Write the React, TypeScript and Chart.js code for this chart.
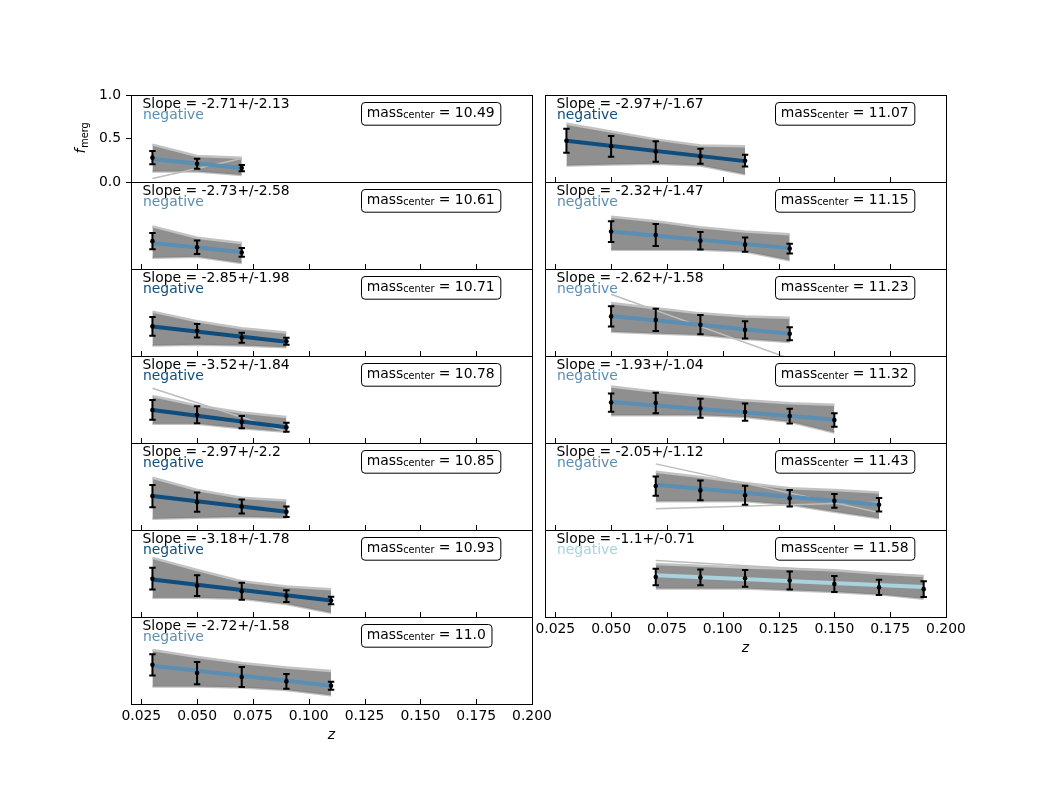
import { useEffect, useRef } from "react"
import { Chart, registerables } from "chart.js"

Chart.register(...registerables)

const FONT = "DejaVu Sans"
Chart.defaults.font.family = FONT

// axis ticks
const xTicks = [0.025, 0.05, 0.075, 0.1, 0.125, 0.15, 0.175, 0.2]
const yTicks = [0, 0.5, 1]
const X_MIN = 0.0204
const X_MAX = 0.2

// panels: left column 10.49 .. 11.0, right column 11.07 .. 11.58
const massLabels = ["10.49", "10.61", "10.71", "10.78", "10.85", "10.93", "11.0", "11.07", "11.15", "11.23", "11.32", "11.43", "11.58"]
const slopes = [-2.71, -2.73, -2.85, -3.52, -2.97, -3.18, -2.72, -2.97, -2.32, -2.62, -1.93, -2.05, -1.1]
const slopeErrs = [2.13, 2.58, 1.98, 1.84, 2.2, 1.78, 1.58, 1.67, 1.47, 1.58, 1.04, 1.12, 0.71]

const panelZ = [
  [0.03, 0.05, 0.07],
  [0.03, 0.05, 0.07],
  [0.03, 0.05, 0.07, 0.09],
  [0.03, 0.05, 0.07, 0.09],
  [0.03, 0.05, 0.07, 0.09],
  [0.03, 0.05, 0.07, 0.09, 0.11],
  [0.03, 0.05, 0.07, 0.09, 0.11],
  [0.03, 0.05, 0.07, 0.09, 0.11],
  [0.05, 0.07, 0.09, 0.11, 0.13],
  [0.05, 0.07, 0.09, 0.11, 0.13],
  [0.05, 0.07, 0.09, 0.11, 0.13, 0.15],
  [0.07, 0.09, 0.11, 0.13, 0.15, 0.17],
  [0.07, 0.09, 0.11, 0.13, 0.15, 0.17, 0.19],
]

const fMerg = [
  [0.28, 0.21, 0.16],
  [0.32, 0.25, 0.19],
  [0.34, 0.29, 0.21, 0.17],
  [0.38, 0.325, 0.24, 0.18],
  [0.39, 0.32, 0.27, 0.21],
  [0.44, 0.36, 0.295, 0.24, 0.19],
  [0.45, 0.355, 0.31, 0.26, 0.21],
  [0.475, 0.41, 0.35, 0.295, 0.245],
  [0.43, 0.39, 0.325, 0.28, 0.235],
  [0.455, 0.415, 0.36, 0.3, 0.255],
  [0.465, 0.46, 0.4, 0.355, 0.31, 0.265],
  [0.505, 0.455, 0.4, 0.365, 0.335, 0.29],
  [0.46, 0.455, 0.445, 0.42, 0.38, 0.34, 0.32],
]

const fMergErr = [
  [0.077, 0.058, 0.035],
  [0.094, 0.077, 0.05],
  [0.107, 0.078, 0.058, 0.04],
  [0.113, 0.098, 0.071, 0.052],
  [0.128, 0.11, 0.08, 0.06],
  [0.125, 0.12, 0.098, 0.067, 0.044],
  [0.123, 0.127, 0.115, 0.086, 0.046],
  [0.138, 0.12, 0.117, 0.086, 0.067],
  [0.12, 0.126, 0.1, 0.083, 0.056],
  [0.117, 0.128, 0.11, 0.098, 0.075],
  [0.105, 0.117, 0.11, 0.1, 0.085, 0.077],
  [0.11, 0.113, 0.11, 0.096, 0.08, 0.077],
  [0.096, 0.09, 0.096, 0.104, 0.092, 0.087, 0.09],
]

// best fit line, value at first and last z
const fitEnds = [
  [0.265, 0.16],
  [0.3, 0.195],
  [0.34, 0.165],
  [0.38, 0.18],
  [0.39, 0.21],
  [0.43, 0.19],
  [0.44, 0.21],
  [0.475, 0.24],
  [0.43, 0.24],
  [0.46, 0.256],
  [0.47, 0.27],
  [0.52, 0.29],
  [0.48, 0.345],
]

// envelope of the sampled fits
const bandHi = [
  [0.43, 0.3, 0.28],
  [0.49, 0.36, 0.3],
  [0.51, 0.4, 0.32, 0.27],
  [0.54, 0.43, 0.35, 0.3],
  [0.6, 0.46, 0.37, 0.34],
  [0.68, 0.54, 0.41, 0.35, 0.32],
  [0.62, 0.54, 0.47, 0.42, 0.38],
  [0.67, 0.58, 0.49, 0.42, 0.41],
  [0.6, 0.55, 0.48, 0.43, 0.4],
  [0.61, 0.55, 0.49, 0.455, 0.44],
  [0.65, 0.59, 0.54, 0.49, 0.456, 0.44],
  [0.67, 0.61, 0.54, 0.48, 0.46, 0.43],
  [0.61, 0.59, 0.57, 0.556, 0.537, 0.5, 0.47],
]

const bandLo = [
  [0.12, 0.12, 0.08],
  [0.13, 0.14, 0.07],
  [0.12, 0.13, 0.12, 0.1],
  [0.22, 0.22, 0.17, 0.13],
  [0.13, 0.14, 0.15, 0.14],
  [0.22, 0.22, 0.21, 0.15, 0.05],
  [0.2, 0.2, 0.19, 0.16, 0.1],
  [0.19, 0.2, 0.21, 0.19, 0.09],
  [0.22, 0.22, 0.22, 0.2, 0.1],
  [0.28, 0.26, 0.24, 0.195, 0.16],
  [0.32, 0.32, 0.32, 0.3, 0.245, 0.12],
  [0.33, 0.33, 0.33, 0.29, 0.21, 0.135],
  [0.327, 0.327, 0.327, 0.307, 0.287, 0.26, 0.21],
]

// a few stray samples, value at first and last z
const outlierLines = [
  [[0.04, 0.27]],
  [],
  [],
  [[0.63, 0.13]],
  [],
  [],
  [],
  [],
  [],
  [[0.71, -0.03]],
  [],
  [[0.76, 0.2], [0.245, 0.32]],
  [[0.65, 0.47]],
]

const DARK = "#0e4d7d"
const MEDIUM = "#5a8eb3"
const LIGHT = "#a8d3de"
const fitColors = [MEDIUM, MEDIUM, DARK, DARK, DARK, DARK, MEDIUM, DARK, MEDIUM, MEDIUM, MEDIUM, MEDIUM, LIGHT]

const COL_LEFT = [131, 545]
const ROW_TOP = 95
const PANEL_W = 401
const PANEL_H = 87
const PAD = 25
const Y_AXIS_W = 50
const X_AXIS_H = 44
const BIG = `13.9px ${FONT}`
const SMALL = `9.7px ${FONT}`

function geometry(i: number) {
  const col = i < 7 ? 0 : 1
  const row = col === 0 ? i : i - 7
  const isBottom = (col === 0 && row === 6) || (col === 1 && row === 5)
  const hasY = i === 0
  const left = COL_LEFT[col] - PAD - (hasY ? Y_AXIS_W : 0)
  const top = ROW_TOP + row * PANEL_H - PAD
  const w = PANEL_W + 2 * PAD + (hasY ? Y_AXIS_W : 0)
  const h = PANEL_H + 2 * PAD + (isBottom ? X_AXIS_H : 0)
  return { left, top, w, h, isBottom, hasY }
}

function makeDecor(i: number, hasY: boolean) {
  return {
    id: "decor" + i,
    afterDatasetsDraw(chart: any) {
      const { ctx, scales } = chart
      const x = scales.x
      const y = scales.y
      ctx.save()
      ctx.strokeStyle = "#000"
      ctx.lineWidth = 2
      panelZ[i].forEach((z, k) => {
        const px = x.getPixelForValue(z)
        const t = y.getPixelForValue(fMerg[i][k] + fMergErr[i][k])
        const b = y.getPixelForValue(fMerg[i][k] - fMergErr[i][k])
        ctx.beginPath()
        ctx.moveTo(px, t)
        ctx.lineTo(px, b)
        ctx.moveTo(px - 3.2, t)
        ctx.lineTo(px + 3.2, t)
        ctx.moveTo(px - 3.2, b)
        ctx.lineTo(px + 3.2, b)
        ctx.stroke()
      })
      ctx.restore()
    },
    afterDraw(chart: any) {
      const { ctx, chartArea: a, scales } = chart
      ctx.save()
      // frame
      ctx.strokeStyle = "#000"
      ctx.lineWidth = 1
      ctx.strokeRect(a.left + 0.5, a.top + 0.5, a.right - a.left, a.bottom - a.top)
      // inward ticks
      if (i !== 0) {
        ctx.beginPath()
        xTicks.forEach((v) => {
          const px = Math.round(scales.x.getPixelForValue(v)) + 0.5
          ctx.moveTo(px, a.bottom)
          ctx.lineTo(px, a.bottom - 5)
        })
        ctx.stroke()
      }
      // slope text
      ctx.textBaseline = "alphabetic"
      ctx.textAlign = "left"
      ctx.font = BIG
      ctx.fillStyle = "#000"
      ctx.fillText(`Slope = ${slopes[i]}+/-${slopeErrs[i]}`, a.left + 11.5, a.top + 12.5)
      ctx.fillStyle = fitColors[i]
      ctx.fillText("negative", a.left + 12, a.top + 24)
      // mass box
      const label = ` = ${massLabels[i]}`
      ctx.font = BIG
      const w1 = ctx.measureText("mass").width
      const w3 = ctx.measureText(label).width
      ctx.font = SMALL
      const w2 = ctx.measureText("center").width
      const bx = a.left + 230
      const by = a.top + 7
      const bw = w1 + w2 + w3 + 11.4
      ctx.beginPath()
      ctx.roundRect(bx + 0.5, by + 0.5, bw, 22.7, 3.5)
      ctx.fillStyle = "#fff"
      ctx.fill()
      ctx.stroke()
      ctx.fillStyle = "#000"
      ctx.font = BIG
      ctx.fillText("mass", bx + 5.7, a.top + 21.5)
      ctx.font = SMALL
      ctx.fillText("center", bx + 5.7 + w1, a.top + 23.4)
      ctx.font = BIG
      ctx.fillText(label, bx + 5.7 + w1 + w2, a.top + 21.5)
      // y label
      if (hasY) {
        ctx.translate(a.left - 46, (a.top + a.bottom) / 2)
        ctx.rotate(-Math.PI / 2)
        ctx.font = `italic ${BIG}`
        const wf = ctx.measureText("f").width
        ctx.font = SMALL
        const wm = ctx.measureText("merg").width
        const start = -(wf + wm) / 2
        ctx.font = `italic ${BIG}`
        ctx.fillText("f", start, 0)
        ctx.font = SMALL
        ctx.fillText("merg", start + wf + 1, 2.5)
      }
      ctx.restore()
    },
  }
}

function buildConfig(i: number): any {
  const { isBottom, hasY } = geometry(i)
  const zs = panelZ[i]
  const last = zs.length - 1
  const pts = (vals: number[]) => zs.map((z, k) => ({ x: z, y: vals[k] }))
  const datasets: any[] = [
    {
      data: pts(fMerg[i]),
      showLine: false,
      pointRadius: 2.3,
      pointBackgroundColor: "#000",
      pointBorderWidth: 0,
      order: 0,
    },
    {
      data: [
        { x: zs[0], y: fitEnds[i][0] },
        { x: zs[last], y: fitEnds[i][1] },
      ],
      borderColor: fitColors[i],
      borderWidth: 4,
      pointRadius: 0,
      order: 1,
    },
    ...outlierLines[i].map((o) => ({
      data: [
        { x: zs[0], y: o[0] },
        { x: zs[last], y: o[1] },
      ],
      borderColor: "#bdbdbd",
      borderWidth: 1.5,
      pointRadius: 0,
      order: 2,
    })),
    {
      data: pts(bandHi[i]),
      borderColor: "#c2c2c2",
      borderWidth: 2.5,
      pointRadius: 0,
      fill: "+1",
      backgroundColor: "rgba(125,125,125,0.86)",
      order: 3,
    },
    {
      data: pts(bandLo[i]),
      borderColor: "#c2c2c2",
      borderWidth: 2.5,
      pointRadius: 0,
      order: 4,
    },
  ]

  return {
    type: "line",
    data: { datasets },
    options: {
      animation: false,
      responsive: false,
      devicePixelRatio: 1,
      layout: { padding: PAD },
      elements: { line: { tension: 0 } },
      plugins: {
        legend: { display: false },
        tooltip: { enabled: false },
      },
      scales: {
        x: {
          type: "linear",
          min: X_MIN,
          max: X_MAX,
          display: isBottom,
          afterBuildTicks: (s: any) => {
            s.ticks = xTicks.map((v) => ({ value: v }))
          },
          afterFit: (s: any) => {
            s.height = isBottom ? X_AXIS_H : 0
          },
          grid: { display: false },
          border: { display: false },
          ticks: {
            color: "#000",
            font: { family: FONT, size: 13.9 },
            padding: -4,
            maxRotation: 0,
            minRotation: 0,
            autoSkip: false,
            callback: (v: any) => Number(v).toFixed(3),
          },
          title: {
            display: true,
            text: "z",
            color: "#000",
            font: { family: FONT, size: 13.9, style: "italic" },
            padding: { top: 0, bottom: 4 },
          },
        },
        y: {
          type: "linear",
          min: 0,
          max: 1,
          display: hasY,
          afterBuildTicks: (s: any) => {
            s.ticks = yTicks.map((v) => ({ value: v }))
          },
          afterFit: (s: any) => {
            s.width = hasY ? Y_AXIS_W : 0
          },
          grid: { drawOnChartArea: false, drawTicks: true, tickLength: 5, color: "#000" },
          border: { display: false },
          ticks: {
            color: "#000",
            font: { family: FONT, size: 13.9 },
            padding: 5,
            callback: (v: any) => Number(v).toFixed(1),
          },
        },
      },
    },
    plugins: [makeDecor(i, hasY)],
  }
}

function Panel({ index }: { index: number }) {
  const ref = useRef<HTMLCanvasElement>(null)
  const g = geometry(index)

  useEffect(() => {
    if (!ref.current) return
    const chart = new Chart(ref.current, buildConfig(index))
    return () => {
      chart.destroy()
    }
  }, [index])

  return (
    <canvas
      ref={ref}
      width={g.w}
      height={g.h}
      style={{ position: "absolute", left: g.left, top: g.top, width: g.w, height: g.h }}
    />
  )
}

export default function App() {
  return (
    <div style={{ position: "absolute", left: 0, top: 0, width: 1050, height: 791, background: "#fff", overflow: "hidden" }}>
      {massLabels.map((_, i) => (
        <Panel key={i} index={i} />
      ))}
    </div>
  )
}
